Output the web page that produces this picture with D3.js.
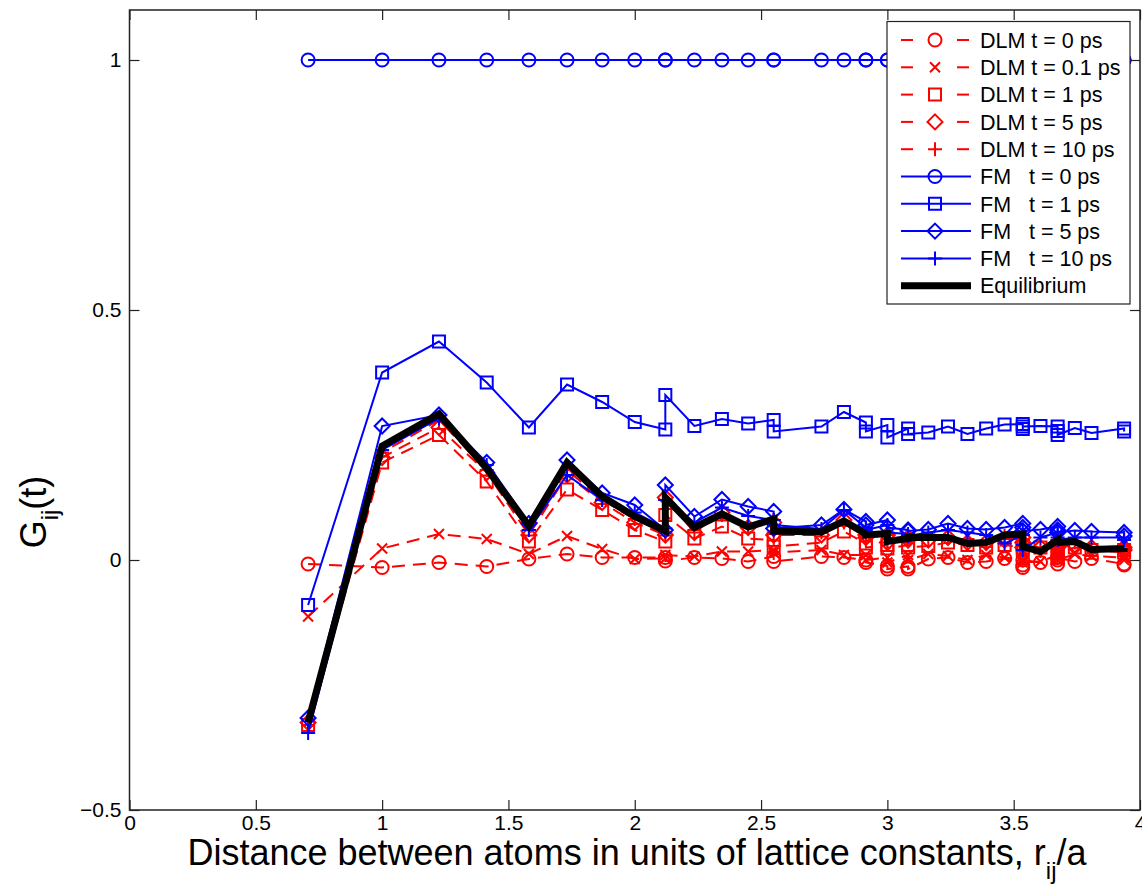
<!DOCTYPE html>
<html>
<head>
<meta charset="utf-8">
<script src="https://cdn.jsdelivr.net/npm/d3@7"></script>
<style>
  body { margin: 0; background: #fff; }
  svg { font-family: "Liberation Sans", Helvetica, Arial, sans-serif; }
  .legend text { white-space: pre; }
</style>
</head>
<body>
<div id="chart"></div>
<script>
// shell distances r_ij/a (repeated where two or three shells share a radius)
var xs = [0.707, 1.000, 1.225, 1.414, 1.581, 1.732, 1.871, 2.000, 2.121, 2.121,
          2.236, 2.345, 2.449, 2.550, 2.550, 2.739, 2.828, 2.915, 2.915, 3.000,
          3.000, 3.082, 3.082, 3.162, 3.240, 3.317, 3.391, 3.464, 3.536, 3.536,
          3.536, 3.606, 3.674, 3.674, 3.674, 3.742, 3.808, 3.937, 3.937];

var dlm0 = [-0.008, -0.015, -0.005, -0.013, 0.002, 0.012, 0.005, 0.005, 0.005, -0.002,
            0.005, 0.003, -0.003, 0.007, -0.003, 0.007, 0.005, 0.000, -0.005, -0.012,
            -0.018, -0.013, -0.018, 0.002, 0.005, -0.005, -0.003, 0.003, -0.010, -0.015,
            0.000, -0.005, -0.008, 0.000, 0.005, -0.003, 0.003, -0.008, -0.010];
var dlm01 = [-0.113, 0.023, 0.052, 0.042, 0.012, 0.048, 0.022, 0.002, 0.003, 0.010,
             0.007, 0.017, 0.017, 0.020, 0.015, 0.020, 0.010, 0.010, 0.000, 0.005,
             -0.005, 0.010, 0.000, 0.012, 0.008, 0.000, 0.010, 0.005, 0.000, 0.012,
             -0.005, -0.003, 0.010, 0.005, 0.000, 0.012, 0.008, 0.005, 0.000];
var dlm1 = [-0.330, 0.195, 0.250, 0.157, 0.037, 0.141, 0.100, 0.060, 0.037, 0.090,
            0.043, 0.067, 0.043, 0.040, 0.027, 0.035, 0.057, 0.033, 0.025, 0.030,
            0.023, 0.030, 0.025, 0.028, 0.035, 0.030, 0.025, 0.030, 0.025, 0.020,
            0.030, 0.025, 0.020, 0.025, 0.015, 0.025, 0.020, 0.015, 0.020];
var dlm5 = [-0.325, 0.205, 0.265, 0.175, 0.050, 0.170, 0.115, 0.075, 0.050, 0.125,
            0.055, 0.095, 0.065, 0.075, 0.050, 0.050, 0.080, 0.050, 0.045, 0.050,
            0.035, 0.045, 0.040, 0.040, 0.045, 0.035, 0.035, 0.040, 0.045, 0.035,
            0.025, 0.025, 0.035, 0.030, 0.025, 0.030, 0.025, 0.025, 0.020];
var dlm10 = [-0.330, 0.215, 0.280, 0.180, 0.060, 0.180, 0.120, 0.082, 0.055, 0.120,
             0.060, 0.090, 0.065, 0.080, 0.055, 0.055, 0.075, 0.050, 0.048, 0.050,
             0.035, 0.042, 0.045, 0.043, 0.045, 0.032, 0.035, 0.048, 0.050, 0.040,
             0.027, 0.018, 0.040, 0.030, 0.035, 0.035, 0.020, 0.022, 0.023];
var fm0 = [1, 1, 1, 1, 1, 1, 1, 1, 1, 1,
           1, 1, 1, 1, 1, 1, 1, 1, 1, 1,
           1, 1, 1, 1, 1, 1, 1, 1, 1, 1,
           1, 1, 1, 1, 1, 1, 1, 1, 1];
var fm1 = [-0.090, 0.375, 0.437, 0.355, 0.265, 0.351, 0.316, 0.276, 0.261, 0.330,
           0.268, 0.282, 0.273, 0.280, 0.257, 0.267, 0.296, 0.275, 0.257, 0.270,
           0.245, 0.263, 0.252, 0.255, 0.267, 0.252, 0.263, 0.271, 0.272, 0.262,
           0.267, 0.268, 0.267, 0.258, 0.250, 0.264, 0.254, 0.263, 0.257];
var fm5 = [-0.316, 0.268, 0.290, 0.195, 0.073, 0.200, 0.134, 0.110, 0.060, 0.150,
           0.087, 0.121, 0.107, 0.097, 0.063, 0.070, 0.101, 0.077, 0.070, 0.080,
           0.065, 0.060, 0.058, 0.061, 0.073, 0.063, 0.061, 0.065, 0.073, 0.065,
           0.058, 0.061, 0.067, 0.060, 0.055, 0.059, 0.057, 0.055, 0.048];
var fm10 = [-0.346, 0.220, 0.283, 0.190, 0.060, 0.170, 0.120, 0.095, 0.063, 0.120,
            0.075, 0.105, 0.088, 0.080, 0.070, 0.062, 0.100, 0.065, 0.060, 0.070,
            0.055, 0.052, 0.048, 0.055, 0.060, 0.055, 0.050, 0.033, 0.050, 0.030,
            0.020, 0.045, 0.055, 0.045, 0.040, 0.045, 0.045, 0.045, 0.040];
var equil = [-0.325, 0.228, 0.292, 0.183, 0.068, 0.195, 0.127, 0.087, 0.058, 0.125,
             0.065, 0.092, 0.066, 0.082, 0.058, 0.056, 0.078, 0.052, 0.050, 0.053,
             0.037, 0.043, 0.045, 0.045, 0.045, 0.033, 0.035, 0.050, 0.052, 0.040,
             0.027, 0.017, 0.040, 0.030, 0.035, 0.037, 0.021, 0.023, 0.024];

var legendLabels = ["DLM t = 0 ps", "DLM t = 0.1 ps", "DLM t = 1 ps", "DLM t = 5 ps",
                    "DLM t = 10 ps", "FM   t = 0 ps", "FM   t = 1 ps", "FM   t = 5 ps",
                    "FM   t = 10 ps", "Equilibrium"];
var xTicks = [0, 0.5, 1, 1.5, 2, 2.5, 3, 3.5, 4];
var yTicks = [-0.5, 0, 0.5, 1];

var series = [
  {y: dlm0,  color: "#ff0000", dash: true,  marker: "circle"},
  {y: dlm01, color: "#ff0000", dash: true,  marker: "x"},
  {y: dlm1,  color: "#ff0000", dash: true,  marker: "square"},
  {y: dlm5,  color: "#ff0000", dash: true,  marker: "diamond"},
  {y: dlm10, color: "#ff0000", dash: true,  marker: "plus"},
  {y: fm0,   color: "#0000ff", dash: false, marker: "circle"},
  {y: fm1,   color: "#0000ff", dash: false, marker: "square"},
  {y: fm5,   color: "#0000ff", dash: false, marker: "diamond"},
  {y: fm10,  color: "#0000ff", dash: false, marker: "plus"},
  {y: equil, color: "#000000", dash: false, marker: null, width: 7}
];

var width = 1142, height = 885;
var plotL = 129.5, plotR = 1140, plotT = 10, plotB = 810;

var x = d3.scaleLinear().domain([0, 4]).range([plotL, plotR]);
var y = d3.scaleLinear().domain([-0.5, 1.1]).range([plotB, plotT]);

var svg = d3.select("#chart").append("svg")
    .attr("width", width)
    .attr("height", height);

// marker shapes, centred on 0,0
function markerPath(type) {
  switch (type) {
    case "circle": return "M6.5,0A6.5,6.5 0 1,1 -6.5,0A6.5,6.5 0 1,1 6.5,0Z";
    case "square": return "M-6,-6H6V6H-6Z";
    case "diamond": return "M0,-7.5L7.5,0L0,7.5L-7.5,0Z";
    case "plus": return "M-7,0H7M0,-7V7";
    case "x": return "M-5,-5L5,5M5,-5L-5,5";
  }
  return "";
}

// axes box with inward ticks on all four sides
var axG = svg.append("g").attr("class", "axes");

axG.append("g")
  .attr("transform", "translate(0," + plotB + ")")
  .call(d3.axisBottom(x).tickValues(xTicks).tickSize(-10).tickPadding(5).tickFormat(d3.format("")));
axG.append("g")
  .attr("transform", "translate(0," + plotT + ")")
  .call(d3.axisTop(x).tickValues(xTicks).tickSize(-10).tickFormat(""));
axG.append("g")
  .attr("transform", "translate(" + plotL + ",0)")
  .call(d3.axisLeft(y).tickValues(yTicks).tickSize(-10).tickPadding(8).tickFormat(d3.format("")));
axG.append("g")
  .attr("transform", "translate(" + plotR + ",0)")
  .call(d3.axisRight(y).tickValues(yTicks).tickSize(-10).tickFormat(""));

axG.selectAll(".domain").remove();
axG.selectAll(".tick line").attr("stroke", "#222").attr("stroke-width", 1.2);
axG.selectAll("g").attr("font-size", null).attr("font-family", null);
axG.selectAll(".tick text")
  .attr("fill", "#000")
  .style("font-size", "21px");

axG.append("rect")
  .attr("x", plotL).attr("y", plotT)
  .attr("width", plotR - plotL).attr("height", plotB - plotT)
  .attr("fill", "none").attr("stroke", "#222").attr("stroke-width", 1.5);

// data
var line = d3.line()
  .x(function(d, i) { return x(xs[i]); })
  .y(function(d) { return y(d); });

var plotG = svg.append("g").attr("class", "plot");

series.forEach(function(s) {
  plotG.append("path")
    .datum(s.y)
    .attr("d", line)
    .attr("fill", "none")
    .attr("stroke", s.color)
    .attr("stroke-width", s.width || 2)
    .attr("stroke-linejoin", "miter")
    .attr("stroke-dasharray", s.dash ? "13,8" : null);

  if (s.marker) {
    plotG.append("g").selectAll("path")
      .data(s.y)
      .enter().append("path")
      .attr("transform", function(d, i) { return "translate(" + x(xs[i]) + "," + y(d) + ")"; })
      .attr("d", markerPath(s.marker))
      .attr("fill", "none")
      .attr("stroke", s.color)
      .attr("stroke-width", 2);
  }
});

// legend
var lgX = 887, lgY = 21.5, lgW = 243, lgH = 282.5, rowH = 27.3;
var lg = svg.append("g").attr("class", "legend");
lg.append("rect")
  .attr("x", lgX).attr("y", lgY)
  .attr("width", lgW).attr("height", lgH)
  .attr("fill", "#fff").attr("stroke", "#222").attr("stroke-width", 1.2);

series.forEach(function(s, i) {
  var cy = 40 + i * rowH;
  var row = lg.append("g");
  if (s.dash) {
    row.append("line").attr("x1", 901).attr("x2", 913).attr("y1", cy).attr("y2", cy)
      .attr("stroke", s.color).attr("stroke-width", 2);
    row.append("line").attr("x1", 957).attr("x2", 969).attr("y1", cy).attr("y2", cy)
      .attr("stroke", s.color).attr("stroke-width", 2);
  } else {
    row.append("line").attr("x1", 901).attr("x2", 971).attr("y1", cy).attr("y2", cy)
      .attr("stroke", s.color).attr("stroke-width", s.width || 2);
  }
  if (s.marker) {
    row.append("path")
      .attr("transform", "translate(935," + cy + ")")
      .attr("d", markerPath(s.marker))
      .attr("fill", "none")
      .attr("stroke", s.color)
      .attr("stroke-width", 2);
  }
  row.append("text")
    .attr("x", 980).attr("y", cy)
    .attr("dy", "0.36em")
    .style("font-size", "21.5px")
    .attr("xml:space", "preserve")
    .text(legendLabels[i]);
});

// axis labels
var xl = svg.append("text")
  .attr("x", 637).attr("y", 865)
  .attr("text-anchor", "middle")
  .style("font-size", "36px");
xl.append("tspan").text("Distance between atoms in units of lattice constants, r");
xl.append("tspan").attr("dy", 14).style("font-size", "24px").text("ij");
xl.append("tspan").attr("dy", -14).text("/a");

var yl = svg.append("text")
  .attr("transform", "translate(46,512) rotate(-90)")
  .attr("text-anchor", "middle")
  .style("font-size", "36px");
yl.append("tspan").text("G");
yl.append("tspan").attr("dy", 12).style("font-size", "24px").text("ij");
yl.append("tspan").attr("dy", -12).text("(t)");
</script>
</body>
</html>
